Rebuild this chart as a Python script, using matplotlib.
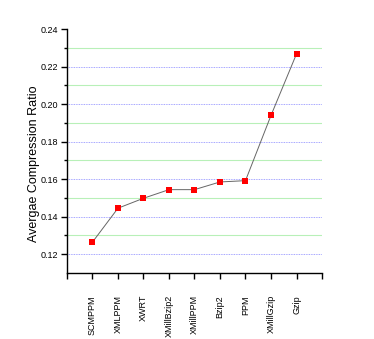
import matplotlib
matplotlib.use("Agg")
import matplotlib.pyplot as plt
import numpy as np

matplotlib.rcParams.update({
    "font.family": "Liberation Sans", "font.size": 7,
    "axes.linewidth": 1, "xtick.major.width": 1, "ytick.major.width": 1,
    "xtick.direction": "out", "ytick.direction": "out",
})

methods = ["SCMPPM", "XMLPPM", "XWRT", "XMillBzip2", "XMillPPM",
           "Bzip2", "PPM", "XMillGzip", "Gzip"]
ratios = [0.1264, 0.1445, 0.1498, 0.1544, 0.1544, 0.1585, 0.1592, 0.1940, 0.2268]

major_y = [0.12, 0.14, 0.16, 0.18, 0.20, 0.22]
minor_y = [0.13, 0.15, 0.17, 0.19, 0.21, 0.23]

fig = plt.figure(figsize=(3.74, 3.39), dpi=100)
ax = fig.add_axes([0.179, 0.195, 0.682, 0.719])

x = np.arange(1, len(methods) + 1)

for yv in major_y:
    ax.axhline(yv, color="#8888ff", linewidth=0.6, linestyle=(0, (1, 1)), zorder=1)
for yv in minor_y:
    ax.axhline(yv, color="#b8f0b8", linewidth=0.8, zorder=1)

ax.plot(x, ratios, "-", color="#666666", linewidth=0.7, zorder=2)
ax.plot(x, ratios, "s", color="red", markersize=4, markeredgewidth=0, zorder=3)

ax.set_xlim(0, 10)
ax.set_ylim(0.11, 0.24)
ax.set_xticks(np.arange(0, 11))
ax.set_xticklabels([""] + methods + [""], rotation=90, fontsize=6.5)
ax.set_yticks([0.12, 0.14, 0.16, 0.18, 0.20, 0.22, 0.24])
ax.set_yticklabels(["0.12", "0.14", "0.16", "0.18", "0.20", "0.22", "0.24"], fontsize=6.5)
ax.set_yticks(minor_y, minor=True)
ax.tick_params(axis="both", which="major", length=4, pad=2)
ax.tick_params(axis="y", which="minor", length=2.5, width=1)
ax.tick_params(axis="x", pad=12)

ax.spines["top"].set_visible(False)
ax.spines["right"].set_visible(False)

ax.set_ylabel("Avergae Compression Ratio", fontsize=9)
ax.yaxis.set_label_coords(-0.105, 0.447)

fig.savefig("out.png", dpi=100)
